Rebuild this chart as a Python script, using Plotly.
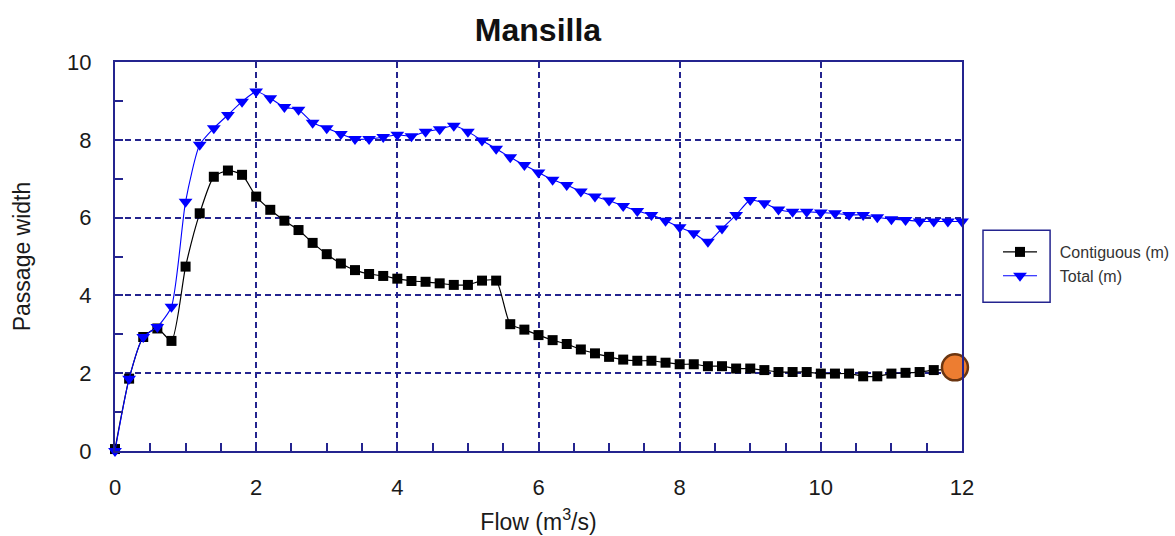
import plotly.graph_objects as go

flow = [0.0, 0.2, 0.4, 0.6, 0.8, 1.0, 1.2, 1.4, 1.6, 1.8,
        2.0, 2.2, 2.4, 2.6, 2.8, 3.0, 3.2, 3.4, 3.6, 3.8,
        4.0, 4.2, 4.4, 4.6, 4.8, 5.0, 5.2, 5.4, 5.6, 5.8,
        6.0, 6.2, 6.4, 6.6, 6.8, 7.0, 7.2, 7.4, 7.6, 7.8,
        8.0, 8.2, 8.4, 8.6, 8.8, 9.0, 9.2, 9.4, 9.6, 9.8,
        10.0, 10.2, 10.4, 10.6, 10.8, 11.0, 11.2, 11.4, 11.6, 11.8, 12.0]

contiguous = [0.05, 1.86, 2.93, 3.15, 2.83, 4.74, 6.11, 7.05, 7.21, 7.10,
              6.54, 6.20, 5.92, 5.68, 5.35, 5.06, 4.82, 4.65, 4.55, 4.50,
              4.43, 4.37, 4.35, 4.31, 4.27, 4.27, 4.38, 4.38, 3.26, 3.12,
              2.98, 2.85, 2.75, 2.61, 2.51, 2.42, 2.35, 2.32, 2.32, 2.27,
              2.23, 2.23, 2.18, 2.18, 2.12, 2.12, 2.08, 2.03, 2.03, 2.03,
              1.99, 1.99, 1.99, 1.92, 1.92, 1.99, 2.01, 2.03, 2.08, 2.10, 2.13]

total = [0.0, 1.86, 2.93, 3.19, 3.71, 6.41, 7.87, 8.30, 8.64, 8.98,
         9.24, 9.07, 8.84, 8.77, 8.44, 8.30, 8.15, 8.02, 8.02, 8.07,
         8.13, 8.09, 8.21, 8.27, 8.36, 8.21, 7.98, 7.77, 7.55, 7.35,
         7.16, 6.97, 6.84, 6.67, 6.54, 6.44, 6.30, 6.17, 6.07, 5.92,
         5.75, 5.60, 5.38, 5.72, 6.07, 6.45, 6.37, 6.21, 6.15, 6.15,
         6.13, 6.11, 6.07, 6.07, 6.01, 5.96, 5.94, 5.90, 5.90, 5.90, 5.90]

highlight_x = [11.9]
highlight_y = [2.15]

x_ticks = [0, 2, 4, 6, 8, 10, 12]
y_ticks = [0, 2, 4, 6, 8, 10]

NAVY = "#24248F"
SANS = "Liberation Sans, Arial, sans-serif"
TXT = "#1a1a1a"
PAD = "\u00a0\u00a0\u00a0\u00a0"

fig = go.Figure()
fig.add_trace(go.Scatter(
    x=flow, y=contiguous, name=PAD + "Contiguous (m)", mode="lines+markers",
    line=dict(color="black", width=1.2, shape="spline", smoothing=0.6),
    marker=dict(symbol="square", size=10, color="black"),
    cliponaxis=False))
fig.add_trace(go.Scatter(
    x=flow, y=total, name=PAD + "Total (m)", mode="lines+markers",
    line=dict(color="#0000FF", width=1.1, shape="spline", smoothing=0.6),
    marker=dict(symbol="triangle-down", size=12, color="#0000FF"),
    cliponaxis=False))
fig.add_trace(go.Scatter(
    x=highlight_x, y=highlight_y, mode="markers", showlegend=False,
    marker=dict(symbol="circle", size=26, color="#ED7D31",
                line=dict(color="#6B3510", width=2.5)),
    cliponaxis=False))

axis_common = dict(
    showline=True, linecolor=NAVY, linewidth=2, mirror=True,
    showgrid=True, gridcolor=NAVY, gridwidth=1.5, griddash="6px,4px",
    ticks="inside", ticklen=8, tickwidth=1.5, tickcolor=NAVY,
    zeroline=False, automargin=False,
    tickfont=dict(family=SANS, size=22, color=TXT),
)

fig.update_xaxes(
    range=[0, 12], tickvals=x_ticks, ticktext=[str(v) for v in x_ticks],
    minor=dict(dtick=0.5, ticks="inside", ticklen=8, tickwidth=1.5,
               tickcolor=NAVY, showgrid=False),
    title=dict(text="Flow (m<sup>3</sup>/s)",
               font=dict(family=SANS, size=23, color=TXT), standoff=14),
    ticklabelstandoff=16,
    **axis_common)
fig.update_yaxes(
    range=[0, 10], tickvals=y_ticks, ticktext=[str(v) for v in y_ticks],
    minor=dict(dtick=1, ticks="inside", ticklen=8, tickwidth=1.5,
               tickcolor=NAVY, showgrid=False),
    title=dict(text="Passage width",
               font=dict(family=SANS, size=23, color=TXT), standoff=30),
    ticklabelstandoff=17,
    **axis_common)

fig.add_shape(type="rect", xref="paper", yref="paper",
              x0=1.0248, x1=1.104, y0=0.3826, y1=0.5678,
              line=dict(color=NAVY, width=1.5), fillcolor="rgba(0,0,0,0)")

fig.update_layout(
    width=1175, height=536,
    margin=dict(l=115, r=213, t=62, b=85),
    paper_bgcolor="white", plot_bgcolor="white",
    title=dict(text="<b>Mansilla</b>", x=538 / 1175, xanchor="center",
               y=1 - 30 / 536, yanchor="middle",
               font=dict(family=SANS, size=32, color="#111111")),
    legend=dict(xref="container", yref="container",
                x=998 / 1175, xanchor="left", y=1 - 235 / 536, yanchor="top",
                bgcolor="rgba(0,0,0,0)", borderwidth=0,
                font=dict(family=SANS, size=16, color="#333333"),
                itemwidth=34),
    showlegend=True,
)

fig.write_html("out.html")
